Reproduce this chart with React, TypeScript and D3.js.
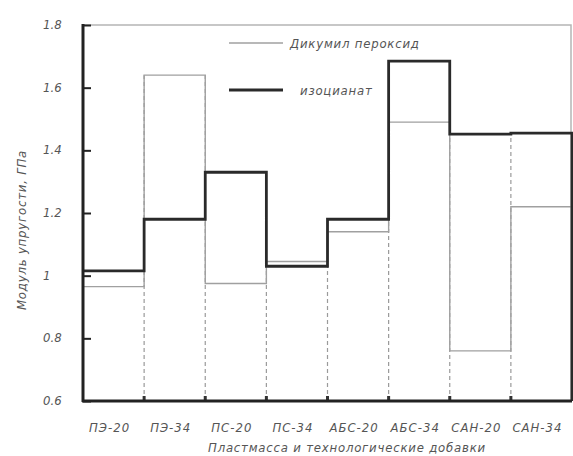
import React, { useEffect, useRef } from 'react'
import * as d3 from 'd3'

// data
const categories = ['ПЭ-20', 'ПЭ-34', 'ПС-20', 'ПС-34', 'АБС-20', 'АБС-34', 'САН-20', 'САН-34']
const peroxide = [0.965, 1.64, 0.975, 1.045, 1.14, 1.49, 0.76, 1.22]
const isocyanate = [1.015, 1.18, 1.33, 1.03, 1.18, 1.685, 1.452, 1.455]
const yTicks = [0.6, 0.8, 1, 1.2, 1.4, 1.6, 1.8]
const seriesNames = ['Дикумил пероксид', 'изоцианат']
const xTitle = 'Пластмасса и технологические добавки'
const yTitle = 'Модуль упругости, ГПа'

const W = 573
const H = 456
const FONT = '"Liberation Sans Narrow", "DejaVu Sans Condensed", sans-serif'

function StepChart() {
  const svgRef = useRef<SVGSVGElement>(null)

  useEffect(() => {
    const svg = d3.select(svgRef.current)
    svg.selectAll('*').remove()

    const left = 83
    const right = 572
    const top = 25
    const bottom = 401

    const x = d3.scaleBand<string>().domain(categories).range([left, right]).padding(0)
    const y = d3.scaleLinear().domain([0.6, 1.8]).range([bottom, top])
    const bw = x.bandwidth()

    // dashed drop lines at the category boundaries
    const bounds = d3.range(1, categories.length)
    svg.append('g')
      .selectAll('line')
      .data(bounds)
      .join('line')
      .attr('x1', i => x(categories[i])!)
      .attr('x2', i => x(categories[i])!)
      .attr('y1', bottom)
      .attr('y2', i => y(Math.max(peroxide[i - 1], peroxide[i], isocyanate[i - 1], isocyanate[i])))
      .attr('stroke', '#9a9a9a')
      .attr('stroke-width', 1.2)
      .attr('stroke-dasharray', '4,3')

    // frame top / right
    svg.append('path')
      .attr('d', `M${left},${top}H${right - 1}V${bottom}`)
      .attr('fill', 'none')
      .attr('stroke', '#b5b5b5')
      .attr('stroke-width', 1.5)

    const stepPts = (vals: number[]) => {
      const pts: [number, number][] = vals.map((v, i) => [x(categories[i])!, y(v)])
      pts.push([x(categories[categories.length - 1])! + bw, y(vals[vals.length - 1])])
      return pts
    }
    const line = d3.line().curve(d3.curveStepAfter)

    // dicumyl peroxide: thin grey step
    svg.append('path')
      .attr('d', line(stepPts(peroxide)))
      .attr('fill', 'none')
      .attr('stroke', '#a0a0a0')
      .attr('stroke-width', 1.4)

    // isocyanate: thick dark step, closed down to the axis at the right
    const iso = stepPts(isocyanate)
    iso.push([right, bottom])
    svg.append('path')
      .attr('d', line(iso))
      .attr('fill', 'none')
      .attr('stroke', '#2a2a2a')
      .attr('stroke-width', 2.8)

    // small marks on the x axis at boundaries
    svg.append('g')
      .selectAll('rect')
      .data(bounds)
      .join('rect')
      .attr('x', i => x(categories[i])! - 1.5)
      .attr('y', bottom - 5)
      .attr('width', 3)
      .attr('height', 5)
      .attr('fill', '#333')

    // axes
    svg.append('line')
      .attr('x1', left).attr('x2', left)
      .attr('y1', top - 1).attr('y2', bottom + 1)
      .attr('stroke', '#222').attr('stroke-width', 3)
    svg.append('line')
      .attr('x1', left - 1).attr('x2', right)
      .attr('y1', bottom).attr('y2', bottom)
      .attr('stroke', '#222').attr('stroke-width', 3)

    const yAxis = d3.axisRight(y)
      .tickValues(yTicks)
      .tickSize(8)
      .tickFormat(() => '')
    const gy = svg.append('g').attr('transform', `translate(${left},0)`).call(yAxis)
    gy.select('.domain').remove()
    gy.selectAll('.tick line').attr('stroke', '#222').attr('stroke-width', 2)

    svg.append('g')
      .selectAll('text')
      .data(yTicks)
      .join('text')
      .attr('x', 43)
      .attr('y', d => y(d) + 4)
      .attr('font-family', FONT)
      .attr('font-style', 'italic')
      .attr('font-size', 13)
      .attr('fill', '#555')
      .text(d => String(d))

    svg.append('g')
      .selectAll('text')
      .data(categories)
      .join('text')
      .attr('x', d => x(d)! + bw / 2 - 4)
      .attr('y', 432)
      .attr('text-anchor', 'middle')
      .attr('font-family', FONT)
      .attr('font-style', 'italic')
      .attr('font-size', 13)
      .attr('letter-spacing', 1)
      .attr('fill', '#555')
      .text(d => d)

    svg.append('text')
      .attr('x', 347)
      .attr('y', 452)
      .attr('text-anchor', 'middle')
      .attr('font-family', FONT)
      .attr('font-style', 'italic')
      .attr('font-size', 13)
      .attr('letter-spacing', 0.8)
      .attr('fill', '#555')
      .text(xTitle)

    svg.append('text')
      .attr('transform', 'translate(26,230) rotate(-90)')
      .attr('text-anchor', 'middle')
      .attr('font-family', FONT)
      .attr('font-style', 'italic')
      .attr('font-size', 13)
      .attr('letter-spacing', 0.8)
      .attr('fill', '#555')
      .text(yTitle)

    // legend
    const legend = [
      { y: 43, stroke: '#a0a0a0', sw: 1.4, tx: 290 },
      { y: 90, stroke: '#2a2a2a', sw: 2.8, tx: 300 },
    ]
    legend.forEach((l, i) => {
      svg.append('line')
        .attr('x1', 229).attr('x2', 283)
        .attr('y1', l.y).attr('y2', l.y)
        .attr('stroke', l.stroke).attr('stroke-width', l.sw)
      svg.append('text')
        .attr('x', l.tx)
        .attr('y', l.y + 5)
        .attr('font-family', FONT)
        .attr('font-style', 'italic')
        .attr('font-size', 13)
        .attr('letter-spacing', 0.8)
        .attr('fill', '#555')
        .text(seriesNames[i])
    })
  }, [])

  return <svg ref={svgRef} width={W} height={H} style={{ display: 'block' }} />
}

export default function App() {
  return (
    <div style={{ position: 'absolute', left: 0, top: 0, background: '#fff' }}>
      <StepChart />
    </div>
  )
}
